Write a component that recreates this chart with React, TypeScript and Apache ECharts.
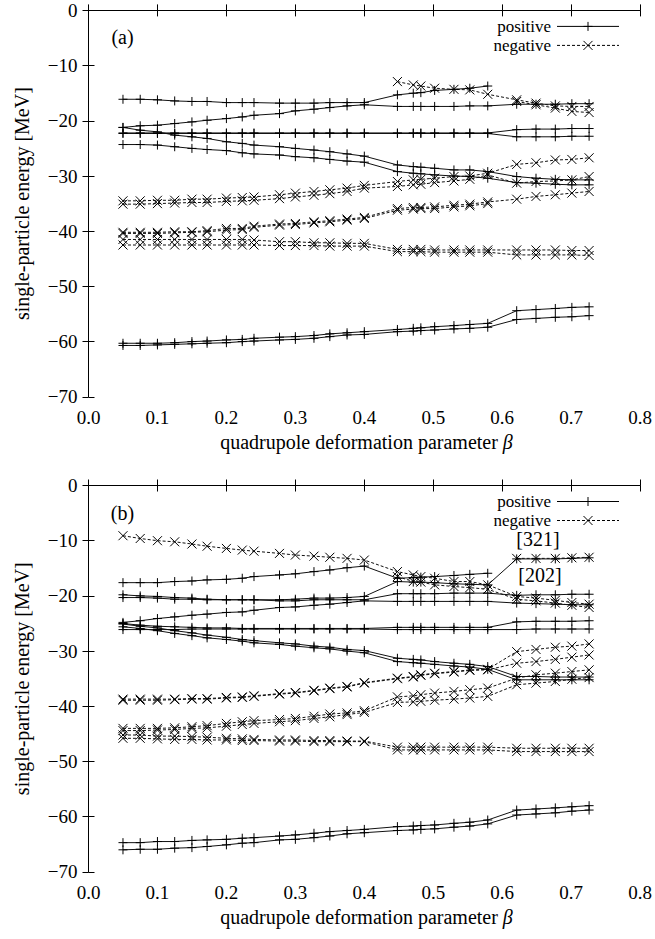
import React, { useEffect, useRef } from "react";
import * as echarts from "echarts";

// deformation parameter values of the computed points
const BETA = [0.05, 0.075, 0.1, 0.125, 0.15, 0.172, 0.2, 0.223, 0.24, 0.277, 0.3, 0.327, 0.35, 0.375, 0.4,
  0.448, 0.471, 0.482, 0.502, 0.53, 0.553, 0.579,
  0.621, 0.649, 0.677, 0.701, 0.726];
const N = null;

// panel (a): positive parity levels
const A_P1 = [-16.1,-16.1,-16.2,-16.4,-16.5,-16.5,-16.7,-16.7,-16.7,-16.8,-16.8,-16.8,-16.7,-16.7,-16.7, -15.3,-15.0,-14.9,-14.5,-14.3,-14.1,-13.7, N,N,N,N,N];
const A_P2 = [-21.2,-20.9,-20.8,-20.5,-20.2,-19.9,-19.6,-19.3,-19.0,-18.7,-18.2,-17.9,-17.6,-17.3,-17.1, -17.4,-17.4,-17.4,-17.4,-17.4,-17.3,-17.3, -17.0,-17.0,-17.0,-16.9,-16.9];
const A_P3 = [-22.2,-22.2,-22.2,-22.2,-22.2,-22.2,-22.2,-22.2,-22.2,-22.2,-22.2,-22.2,-22.2,-22.2,-22.2, -22.2,-22.2,-22.2,-22.2,-22.2,-22.2,-22.2, -21.6,-21.5,-21.5,-21.4,-21.4];
const A_P4 = [-22.3,-22.3,-22.3,-22.3,-22.3,-22.3,-22.3,-22.3,-22.3,-22.3,-22.3,-22.3,-22.3,-22.3,-22.3, -22.3,-22.3,-22.3,-22.3,-22.3,-22.3,-22.3, -22.9,-22.9,-22.9,-22.8,-22.8];
const A_P5 = [-21.2,-21.7,-22.0,-22.6,-22.9,-23.2,-23.8,-24.1,-24.4,-24.7,-25.0,-25.3,-25.6,-26.0,-26.4, -28.0,-28.3,-28.4,-28.6,-28.9,-28.9,-29.2, -30.1,-30.4,-30.6,-30.7,-30.7];
const A_P6 = [-24.3,-24.3,-24.4,-24.7,-25.0,-25.2,-25.4,-25.8,-26.0,-26.2,-26.5,-26.7,-27.0,-27.3,-27.5, -29.2,-29.5,-29.6,-29.8,-30.0,-30.1,-30.4, -31.2,-31.3,-31.5,-31.6,-31.6];
const A_P7 = [-60.3,-60.3,-60.3,-60.2,-60.0,-59.9,-59.7,-59.6,-59.4,-59.2,-59.1,-58.9,-58.6,-58.4,-58.2, -57.8,-57.6,-57.5,-57.3,-57.1,-56.9,-56.7, -54.4,-54.2,-54.0,-53.8,-53.7];
const A_P8 = [-60.7,-60.7,-60.6,-60.5,-60.4,-60.3,-60.2,-60.0,-59.9,-59.7,-59.6,-59.4,-59.1,-58.8,-58.7, -58.2,-58.1,-58.0,-57.9,-57.7,-57.6,-57.4, -56.0,-55.8,-55.6,-55.5,-55.3];

// panel (a): negative parity levels
const A_N1 = [N,N,N,N,N,N,N,N,N,N,N,N,N,N,N, -12.9,-13.5,-13.7,-14.1,-14.3,-14.4,-15.2, -16.2,-16.8,-17.3,-17.4,-17.4];
const A_N2 = [N,N,N,N,N,N,N,N,N,N,N,N,N,N,N, N,N,N,N,N,N,N, -16.5,-17.1,-17.7,-18.3,-18.5];
const A_N3 = [-34.5,-34.5,-34.4,-34.4,-34.2,-34.2,-34.0,-33.9,-33.8,-33.4,-33.1,-32.8,-32.5,-32.2,-31.7, -31.0,-30.7,-30.6,-30.4,-30.1,-30.0,-29.5, -27.9,-27.6,-27.1,-27.0,-26.7];
const A_N4 = [-35.1,-35.1,-35.0,-34.9,-34.8,-34.8,-34.6,-34.5,-34.4,-34.1,-33.8,-33.5,-33.2,-32.8,-32.2, -31.9,-31.6,-31.5,-31.2,-30.9,-30.6,-29.8, -31.3,-31.0,-30.9,-30.7,-30.1];
const A_N5 = [-40.2,-40.2,-40.2,-40.1,-40.1,-39.9,-39.5,-39.5,-39.1,-38.7,-38.6,-38.3,-38.1,-37.8,-37.5, -35.9,-35.7,-35.7,-35.6,-35.3,-35.1,-34.7, -34.2,-33.7,-33.4,-33.1,-32.8];
const A_N6 = [-40.4,-40.4,-40.4,-40.3,-40.2,-40.1,-39.8,-39.7,-39.3,-38.9,-38.8,-38.5,-38.3,-38.0,-37.7, -36.2,-36.0,-35.9,-35.9,-35.6,-35.4,-35.0, N,N,N,N,N];
const A_N7 = [-41.5,-41.5,-41.5,-41.5,-41.5,-41.5,-41.5,-41.5,-41.6,-41.9,-41.9,-42.1,-42.1,-42.2,-42.2, -43.3,-43.3,-43.3,-43.4,-43.4,-43.4,-43.4, -43.4,-43.4,-43.4,-43.5,-43.5];
const A_N8 = [-42.5,-42.5,-42.5,-42.5,-42.5,-42.5,-42.5,-42.5,-42.5,-42.6,-42.6,-42.6,-42.7,-42.7,-42.7, -43.7,-43.7,-43.7,-43.8,-43.8,-43.8,-43.8, -44.3,-44.3,-44.3,-44.3,-44.4];

// panel (b): positive parity levels
const B_P1 = [-17.6,-17.6,-17.6,-17.4,-17.3,-17.1,-17.0,-16.8,-16.5,-16.2,-16.0,-15.6,-15.3,-14.9,-14.6, -16.8,-16.7,-16.6,-16.5,-16.3,-16.1,-15.9, N,N,N,N,N];
const B_P2 = [-19.8,-20.0,-20.1,-20.3,-20.4,-20.6,-20.7,-20.7,-20.7,-20.7,-20.6,-20.4,-20.4,-20.3,-20.1, -17.4,-17.5,-17.5,-17.6,-17.8,-17.9,-18.0, -13.3,-13.3,-13.3,-13.2,-13.1];
const B_P3 = [-20.3,-20.3,-20.4,-20.6,-20.6,-20.7,-20.7,-20.7,-20.7,-20.9,-20.9,-20.7,-20.7,-20.7,-20.7, -19.6,-19.6,-19.6,-19.6,-19.5,-19.5,-19.5, -19.9,-19.8,-19.8,-19.7,-19.7];
const B_P4 = [-24.8,-24.5,-24.1,-23.8,-23.5,-23.3,-23.0,-22.9,-22.6,-22.1,-22.0,-21.7,-21.5,-21.2,-20.9, -21.0,-21.0,-21.0,-21.0,-21.0,-21.0,-21.0, -21.3,-21.4,-21.5,-21.6,-21.6];
const B_P5 = [-25.0,-25.3,-25.5,-25.6,-25.7,-25.8,-25.8,-25.9,-25.9,-25.9,-25.9,-25.9,-25.9,-25.9,-25.9, -25.7,-25.7,-25.7,-25.7,-25.7,-25.7,-25.7, -24.7,-24.6,-24.6,-24.6,-24.5];
const B_P6 = [-26.1,-26.1,-26.1,-26.1,-26.0,-26.0,-26.0,-26.0,-26.0,-26.0,-26.0,-26.0,-26.0,-26.0,-26.0, -26.1,-26.1,-26.1,-26.1,-26.1,-26.1,-26.1, -26.1,-26.0,-26.0,-26.0,-26.0];
const B_P7 = [-25.1,-25.5,-25.8,-26.3,-26.7,-27.1,-27.5,-27.9,-28.1,-28.5,-28.7,-29.1,-29.3,-29.7,-29.9, -31.3,-31.5,-31.6,-31.9,-32.2,-32.4,-32.8, -34.6,-34.6,-34.7,-34.7,-34.7];
const B_P8 = [-25.6,-25.9,-26.3,-26.8,-27.2,-27.6,-27.9,-28.2,-28.5,-28.8,-29.1,-29.4,-29.6,-30.0,-30.3, -31.9,-32.1,-32.2,-32.4,-32.7,-32.9,-33.3, -35.2,-35.2,-35.2,-35.2,-35.2];
const B_P9 = [-64.7,-64.7,-64.5,-64.5,-64.3,-64.2,-64.1,-63.9,-63.8,-63.5,-63.3,-63.0,-62.7,-62.5,-62.3, -61.8,-61.7,-61.6,-61.5,-61.2,-61.0,-60.6, -58.8,-58.6,-58.4,-58.2,-58.0];
const B_P10 = [-66.0,-65.9,-65.9,-65.7,-65.6,-65.4,-65.1,-64.8,-64.7,-64.2,-64.1,-63.8,-63.5,-63.1,-62.9, -62.5,-62.4,-62.3,-62.2,-61.9,-61.7,-61.3, -59.7,-59.5,-59.3,-59.0,-58.8];

// panel (b): negative parity levels
const B_N1 = [-9.1,-9.6,-10.0,-10.2,-10.6,-11.0,-11.4,-11.7,-11.9,-12.3,-12.6,-12.8,-13.0,-13.2,-13.5, -15.6,-16.2,-16.5,-16.8,-17.4,-17.4,-18.0, -20.1,-20.4,-20.8,-21.2,-21.5];
const B_N2 = [N,N,N,N,N,N,N,N,N,N,N,N,N,N,N, -16.5,-17.4,-17.5,-18.0,-18.3,-18.5,-18.8, -20.6,-20.9,-21.3,-21.7,-22.1];
const B_N3 = [N,N,N,N,N,N,N,N,N,N,N,N,N,N,N, N,N,N,N,N,N,N, -13.2,-13.2,-13.2,-13.1,-13.0];
const B_N4 = [-38.7,-38.7,-38.7,-38.7,-38.6,-38.6,-38.4,-38.3,-38.1,-37.7,-37.5,-37.1,-36.7,-36.4,-35.7, -34.9,-34.6,-34.3,-34.0,-33.7,-33.4,-33.3, -30.1,-29.7,-29.3,-29.1,-28.7];
const B_N5 = [-38.9,-38.9,-38.9,-38.8,-38.7,-38.7,-38.5,-38.4,-38.2,-37.8,-37.6,-37.2,-36.8,-36.5,-35.8, -35.0,-34.7,-34.4,-34.1,-33.8,-33.5,-33.4, -32.2,-31.9,-31.5,-31.1,-30.7];
const B_N6 = [-44.0,-44.0,-44.0,-43.9,-43.7,-43.5,-43.1,-42.8,-42.6,-42.4,-42.2,-41.8,-41.4,-41.2,-40.8, -38.3,-38.1,-37.9,-37.6,-37.3,-37.0,-36.7, -34.9,-34.3,-34.0,-33.7,-33.4];
const B_N7 = [-44.4,-44.4,-44.3,-44.2,-44.0,-43.9,-43.6,-43.3,-43.1,-42.8,-42.6,-42.2,-41.9,-41.5,-41.1, -39.3,-39.2,-39.1,-38.9,-38.7,-38.5,-38.2, -36.1,-35.8,-35.5,-35.1,-34.8];
const B_N8 = [-45.2,-45.2,-45.4,-45.4,-45.5,-45.6,-45.8,-45.9,-46.0,-46.1,-46.1,-46.2,-46.2,-46.3,-46.3, -47.4,-47.4,-47.4,-47.4,-47.4,-47.4,-47.4, -47.6,-47.6,-47.6,-47.6,-47.6];
const B_N9 = [-45.8,-45.8,-45.9,-46.0,-46.0,-46.1,-46.1,-46.2,-46.2,-46.3,-46.3,-46.4,-46.4,-46.4,-46.4, -47.9,-47.9,-47.9,-47.9,-47.9,-47.9,-47.9, -48.2,-48.2,-48.2,-48.2,-48.2];

const X_TICKS = [0, 0.1, 0.2, 0.3, 0.4, 0.5, 0.6, 0.7, 0.8];
const Y_TICKS = [0, -10, -20, -30, -40, -50, -60, -70];

const PANELS = [
  { tag: "(a)", pos: [A_P1, A_P2, A_P3, A_P4, A_P5, A_P6, A_P7, A_P8], neg: [A_N1, A_N2, A_N3, A_N4, A_N5, A_N6, A_N7, A_N8] },
  { tag: "(b)", pos: [B_P1, B_P2, B_P3, B_P4, B_P5, B_P6, B_P7, B_P8, B_P9, B_P10], neg: [B_N1, B_N2, B_N3, B_N4, B_N5, B_N6, B_N7, B_N8, B_N9] },
];

const FONT = "Liberation Serif";
const FS_TICK = 19;
const FS_TEXT = 20;
const FS_LEGEND = 17;
const PLUS = "path://M0,5L10,5M5,0L5,10";
const CROSS = "path://M0,0L10,10M10,0L0,10";

const GRID_LEFT = 88.5;
const GRID_W = 556;
const GRID_H = 386.4;
const GRID_TOPS = [10.4, 485.5];

function pairs(vals: (number | null)[]) {
  const out: number[][] = [];
  vals.forEach((v, i) => {
    if (v !== null) out.push([BETA[i], v]);
  });
  return out;
}

export default function App() {
  const ref = useRef<HTMLDivElement>(null);
  useEffect(() => {
    if (!ref.current) return;
    const chart = echarts.init(ref.current, undefined, { renderer: "svg" });
    const tick = { fontFamily: FONT, fontSize: FS_TICK, color: "#000" };
    const txt = { fontFamily: FONT, fontSize: FS_TEXT };
    const grid: any[] = [];
    const xAxis: any[] = [];
    const yAxis: any[] = [];
    const series: any[] = [];
    const graphic: any[] = [];
    const axisLine = { show: true, lineStyle: { color: "#000", width: 1 } };
    const ln = (x1: number, y1: number, x2: number, y2: number, dash?: number[]) => ({
      type: "line", shape: { x1, y1, x2, y2 }, style: { stroke: "#000", lineWidth: 1, lineDash: dash || null },
    });
    PANELS.forEach((p, gi) => {
      const top = GRID_TOPS[gi];
      grid.push({ left: GRID_LEFT, top, width: GRID_W, height: GRID_H });
      const xBase = {
        type: "value", gridIndex: gi, min: X_TICKS[0], max: X_TICKS[X_TICKS.length - 1], interval: 0.1,
        axisLine, splitLine: { show: false },
        axisTick: { show: true, inside: true, length: 6, lineStyle: { color: "#000" } },
      };
      xAxis.push({ ...xBase, position: "bottom",
        axisLabel: { ...tick, margin: 11, formatter: (v: number) => v.toFixed(1) } });
      xAxis.push({ ...xBase, position: "top", axisLabel: { show: false } });
      const yBase = {
        type: "value", gridIndex: gi, min: Y_TICKS[Y_TICKS.length - 1], max: Y_TICKS[0], interval: 10,
        axisLine, splitLine: { show: false },
        axisTick: { show: true, inside: true, length: 6, lineStyle: { color: "#000" } },
      };
      yAxis.push({ ...yBase, position: "left",
        axisLabel: { ...tick, margin: 11, formatter: (v: number) => (v === 0 ? "0" : "\u2212" + Math.abs(v)) } });
      yAxis.push({ ...yBase, position: "right", axisLabel: { show: false } });
      const common = { type: "line", xAxisIndex: gi * 2, yAxisIndex: gi * 2, symbolSize: 9,
        itemStyle: { color: "#000", borderColor: "#000", borderWidth: 1 }, silent: true };
      p.pos.forEach((vals, k) => {
        series.push({ ...common, name: `pos-${gi}-${k}`, data: pairs(vals), symbol: PLUS,
          lineStyle: { color: "#111", width: 1 } });
      });
      p.neg.forEach((vals, k) => {
        series.push({ ...common, name: `neg-${gi}-${k}`, data: pairs(vals), symbol: CROSS,
          lineStyle: { color: "#111", width: 1, type: [3, 2] } });
      });
      // panel tag
      graphic.push({ type: "text", x: 122.5, y: top + 27, style: { text: p.tag, ...txt, fill: "#000", align: "center", verticalAlign: "middle" } });
      // legend
      const yPos = top + 16;
      const yNeg = top + 35;
      graphic.push({ type: "text", x: 551, y: yPos, style: { text: "positive", fontFamily: FONT, fontSize: FS_LEGEND, fill: "#000", align: "right", verticalAlign: "middle" } });
      graphic.push({ type: "text", x: 551, y: yNeg, style: { text: "negative", fontFamily: FONT, fontSize: FS_LEGEND, fill: "#000", align: "right", verticalAlign: "middle" } });
      graphic.push(ln(557, yPos, 619, yPos));
      graphic.push(ln(583.5, yPos, 592.5, yPos));
      graphic.push(ln(588, yPos - 4.5, 588, yPos + 4.5));
      graphic.push(ln(557, yNeg, 619, yNeg, [3, 2]));
      graphic.push(ln(583.5, yNeg - 4.5, 592.5, yNeg + 4.5));
      graphic.push(ln(592.5, yNeg - 4.5, 583.5, yNeg + 4.5));
      // y-axis title
      graphic.push({ type: "text", x: 22, y: top + GRID_H / 2, rotation: Math.PI / 2,
        style: { text: "single-particle energy [MeV]", ...txt, fill: "#000", align: "center", verticalAlign: "middle" } });
      // x-axis title
      graphic.push({ type: "text", x: GRID_LEFT + GRID_W / 2, y: top + GRID_H + 45,
        style: { text: "{n|quadrupole deformation parameter }{b|\u03b2}", align: "center", verticalAlign: "middle", fill: "#000",
          rich: { n: { ...txt, color: "#000" }, b: { ...txt, color: "#000", fontStyle: "italic" } } } });
    });
    graphic.push({ type: "text", x: 538, y: 539, style: { text: "[321]", ...txt, fill: "#000", align: "center", verticalAlign: "middle" } });
    graphic.push({ type: "text", x: 540, y: 575, style: { text: "[202]", ...txt, fill: "#000", align: "center", verticalAlign: "middle" } });
    chart.setOption({ animation: false, backgroundColor: "#fff", grid, xAxis, yAxis, series, graphic });
    return () => chart.dispose();
  }, []);
  return <div ref={ref} style={{ position: "absolute", left: 0, top: 0, width: 655, height: 939 }} />;
}
